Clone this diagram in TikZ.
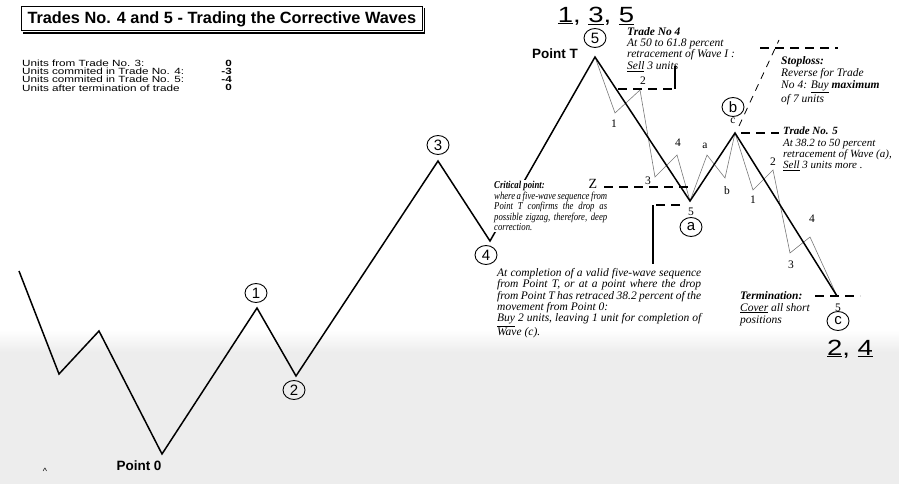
\documentclass[tikz,border=0pt]{standalone}
\usepackage{fontspec}
\setmainfont{Liberation Serif}
\setsansfont{Liberation Sans}
\newfontfamily\widesans[FakeStretch=1.3]{Liberation Sans}
\newfontfamily\bigsans[FakeStretch=1.25]{Liberation Sans}
\newfontfamily\noteserif{Liberation Serif}
\newfontfamily\narrowserif[FakeStretch=0.82]{Liberation Serif}
\usetikzlibrary{
  arrows.meta,
  positioning,
  shapes.geometric,
  calc
}
\definecolor{subwave}{RGB}{120,120,120}
\definecolor{scanshade}{RGB}{237,237,237}

\begin{document}
\begin{tikzpicture}[
  x=1pt, y=-1pt,
  every node/.style={inner sep=0pt},
  wave/.style={line width=1.5pt, line join=miter},
  subwave/.style={draw=subwave, line width=0.6pt, line join=miter},
  level/.style={line width=1.1pt, dash pattern=on 9pt off 6pt},
  circled/.style={ellipse, draw, line width=0.9pt, minimum width=22pt,
                  minimum height=19pt, font=\sffamily\fontsize{15}{15}\selectfont},
  pointlabel/.style={font=\sffamily\bfseries\fontsize{13.5}{13.5}\selectfont},
  count/.style={font=\fontsize{11.5}{11.5}\selectfont},
  note/.style={anchor=north west, align=left,
               font=\noteserif\itshape\fontsize{11.5}{11.4}\selectfont},
  units/.style={font=\widesans\fontsize{9}{9}\selectfont},
  bignum/.style={font=\bigsans\fontsize{22}{22}\selectfont},
]

\useasboundingbox (0,0) rectangle (899,484);
\shade[top color=white, bottom color=scanshade] (0,330) rectangle (899,352);
\fill[scanshade] (0,352) rectangle (899,484);

\node[draw, line width=1pt, anchor=west, inner xsep=6pt, minimum height=24pt,
      font=\sffamily\bfseries\fontsize{16.3}{17}\selectfont] (title) at (21,19)
      {Trades No. 4 and 5 - Trading the Corrective Waves};
\draw[line width=1.2pt] ($(title.north east)+(1.5,2)$) -- ($(title.south east)+(1.5,1.5)$)
  -- ($(title.south west)+(2,1.5)$);

\foreach \txt/\val [count=\i] in {Units from Trade No. 3:/0,
    Units commited in Trade No. 4:/-3, Units commited in Trade No. 5:/-4,
    Units after termination of trade/0}{
  \node[units, anchor=west] (units\i) at (22,{54.7+8.3*\i}) {\txt};
  \node[units, anchor=east, font=\widesans\bfseries\fontsize{9}{9}\selectfont]
       (val\i) at (232,{54.7+8.3*\i}) {\val};
}

\coordinate (s0)  at (19,271);
\coordinate (v1)  at (59,374);
\coordinate (v2)  at (99,331);
\coordinate (pt0) at (162,454);
\coordinate (w1)  at (257,308);
\coordinate (w2)  at (296,376);
\coordinate (w3)  at (438,161);
\coordinate (w4)  at (490,241);
\coordinate (ptT) at (595,57);
\coordinate (wa)  at (690,201);
\coordinate (wb)  at (735,133);
\coordinate (wc)  at (837,296);

\coordinate (t1) at (615,113);
\coordinate (t2) at (640,90);
\coordinate (t3) at (655,177);
\coordinate (t4) at (677,155);
\coordinate (sa) at (707,155);
\coordinate (sb) at (725,178);
\coordinate (u1) at (753,190);
\coordinate (u2) at (773,170);
\coordinate (u3) at (790,253);
\coordinate (u4) at (810,237);

\draw[subwave] (ptT) -- (t1) -- (t2) -- (t3) -- (t4) -- (wa) -- (sa) -- (sb)
  -- (wb) -- (u1) -- (u2) -- (u3) -- (u4) -- (wc);
\draw[wave] (s0) -- (v1) -- (v2) -- (pt0) -- (w1) -- (w2) -- (w3) -- (w4)
  -- (ptT) -- (wa) -- (wb) -- (wc);

\node[note, fill=white, inner sep=1pt, font=\narrowserif\itshape\fontsize{10.6}{10.6}\selectfont]
  (critical) at (493,180)
  {\textbf{Critical point:}\\
   \makebox[113pt][s]{where a five-wave sequence from}\\
   \makebox[113pt][s]{Point T confirms the drop as}\\
   \makebox[113pt][s]{possible zigzag, therefore, deep}\\
   correction.};

\node[circled] (c1) at (256,293) {1};
\node[circled] (c2) at (294,390) {2};
\node[circled] (c3) at (438,145) {3};
\node[circled] (c4) at (486,255) {4};
\node[circled] (c5) at (595,38) {5};
\node[circled] (ca) at (691,227) {a};
\node[circled] (cb) at (733,107) {b};
\node[circled] (cc) at (838,321) {c};

\node[pointlabel] (lblT) at (555,54) {Point T};
\node[pointlabel] (lbl0) at (139,466) {Point 0};
\node[font=\sffamily\fontsize{9}{9}\selectfont] (caret) at (45,471) {\textasciicircum};

\node[bignum] (top135) at (596,16) {\underline{1}, \underline{3}, \underline{5}};
\node[bignum] (bot24) at (850,349) {\underline{2}, \underline{4}};

\node[count] (n1) at (614,124) {1};
\node[count] (n2) at (643,81) {2};
\node[count] (n3) at (648,181) {3};
\node[count] (n4) at (678,143) {4};
\node[count] (n5) at (691,212) {5};
\node[count] (na) at (705,146) {a};
\node[count] (nb) at (727,191) {b};
\node[count] (nc) at (733,121) {c};
\node[count] (m1) at (753,200) {1};
\node[count] (m2) at (773,162) {2};
\node[count] (m3) at (791,265) {3};
\node[count] (m4) at (812,219) {4};
\node[count] (m5) at (838,308) {5};
\node[font=\fontsize{14}{14}\selectfont] (zlbl) at (593,184) {Z};

\coordinate (k4a) at (618,89);
\coordinate (k4b) at (675,89);
\coordinate (k4c) at (675,66);
\draw[level] (k4a) -- (k4b);
\draw[line width=1.1pt] (k4b) -- (k4c);

\coordinate (zend) at (688,187);
\draw[level] (zlbl.east) ++(7,3) -- (zend);

\coordinate (ka) at (680,205);
\coordinate (kb) at (653,205);
\coordinate (kc) at (653,264);
\draw[level] (ka) -- (kb);
\draw[line width=1.1pt] (kb) -- (kc);

\coordinate (k5) at (779,133);
\draw[level] (wb) ++(6,0) -- (k5);

\coordinate (slA) at (739,126);
\coordinate (slB) at (779,40);
\coordinate (slC) at (760,48);
\coordinate (slD) at (838,48);
\draw[level, line width=0.8pt, dash pattern=on 7pt off 6pt] (slA) -- (slB);
\draw[level] (slC) -- (slD);

\coordinate (tmA) at (815,296);
\coordinate (tmB) at (860,296);
\draw[level] (tmA) -- (tmB);

\node[note] (trade4) at (627,27)
  {\textbf{Trade No 4}\\At 50 to 61.8 percent\\retracement of Wave I :\\\underline{Sell} 3 units};
\node[note, font=\noteserif\itshape\fontsize{11.5}{12.3}\selectfont] (stoploss) at (781,56)
  {\textbf{Stoploss:}\\Reverse for Trade\\No 4: \underline{Buy} \textbf{maximum}\\of 7 units};
\node[note, font=\noteserif\itshape\fontsize{11}{11.2}\selectfont] (trade5) at (783,127)
  {\textbf{Trade No. 5}\\At 38.2 to 50 percent\\retracement of Wave (a),\\\underline{Sell} 3 units more .};
\node[note] (buy) at (497,268)
  {\makebox[204pt][s]{At completion of a valid five-wave sequence}\\
   \makebox[204pt][s]{from Point T, or at a point where the drop}\\
   \makebox[204pt][s]{from Point T has retraced 38.2 percent of the}\\
   movement from Point 0:\\
   \makebox[204pt][s]{\underline{Buy} 2 units, leaving 1 unit for completion of}\\
   Wave (c).};
\node[note, font=\noteserif\itshape\fontsize{11.5}{12}\selectfont] (termination) at (740,291)
  {\textbf{Termination:}\\\underline{Cover} all short\\positions};

\end{tikzpicture}
\end{document}
